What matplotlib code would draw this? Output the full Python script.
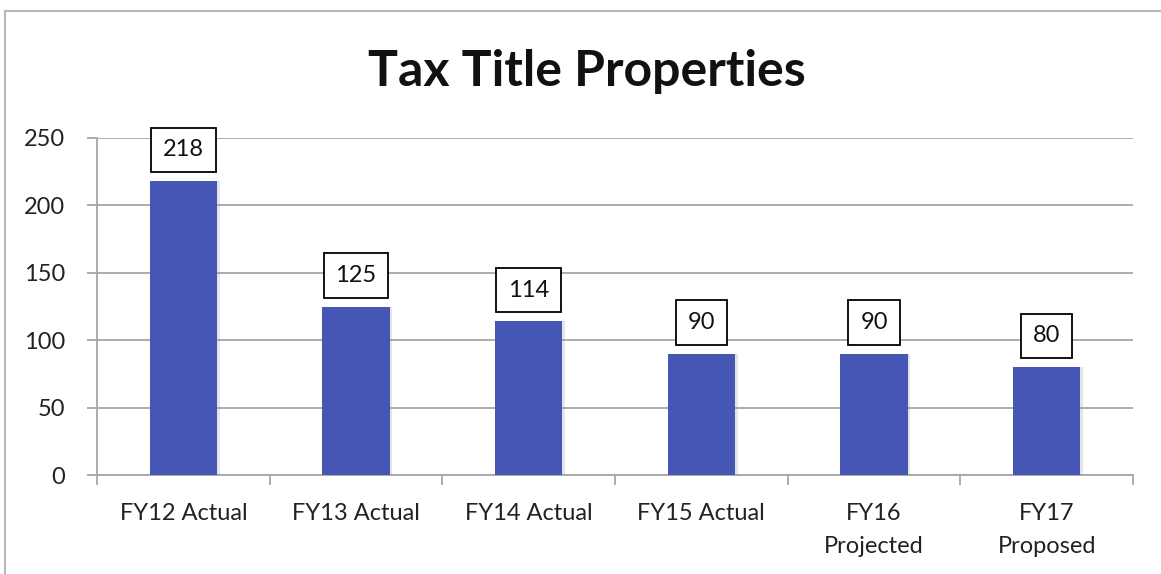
import matplotlib.pyplot as plt
import matplotlib.patheffects as pe
from matplotlib.patches import Rectangle

categories = ['FY12 Actual', 'FY13 Actual', 'FY14 Actual', 'FY15 Actual',
              'FY16\nProjected', 'FY17\nProposed']
values = [218, 125, 114, 90, 90, 80]

plt.rcParams['font.family'] = ['Lato', 'DejaVu Sans']

fig = plt.figure(figsize=(11.61, 5.74), dpi=100)
ax = fig.add_axes([97 / 1161, 99 / 574, 1036 / 1161, 337 / 574])

# outer frame (clipped on right/bottom like the screenshot)
fig.patches.append(Rectangle((5 / 1161, -0.05), 1.1, 1 - 11 / 574 + 0.05,
                             transform=fig.transFigure, fill=False,
                             edgecolor='#b8b8b8', linewidth=1.5))

x = list(range(len(values)))
bars = ax.bar(x, values, width=0.39, color='#4656b4', zorder=3,
              path_effects=[pe.SimplePatchShadow(offset=(2, 0), shadow_rgbFace='#999999', alpha=0.25),
                            pe.Normal()])

for xi, v in zip(x, values):
    ax.annotate(str(v), (xi, v), xytext=(0, 22.5), textcoords='offset points',
                ha='center', va='center', fontsize=17, color='#111111', zorder=5,
                bbox=dict(boxstyle='square,pad=0.5', facecolor='white',
                          edgecolor='black', linewidth=1.3))

ax.set_xlim(-0.5, 5.5)
ax.set_ylim(0, 250)
ax.set_yticks([0, 50, 100, 150, 200, 250])
ax.yaxis.grid(True, color='#a6a6a6', linewidth=1.3, zorder=0)
ax.set_axisbelow(True)

ax.set_xticks([i - 0.5 for i in range(len(values) + 1)])
ax.set_xticklabels([])
ax.set_xticks(x, minor=True)
ax.set_xticklabels(categories, minor=True, fontsize=17, color='#222222',
                   linespacing=1.7)
ax.tick_params(axis='x', which='major', length=7, width=1.3, color='#a6a6a6', direction='out')
ax.tick_params(axis='x', which='minor', length=0, pad=20)
ax.tick_params(axis='y', length=7, width=1.3, color='#a6a6a6', pad=16,
               labelsize=17, labelcolor='#222222')

for s in ['top', 'right']:
    ax.spines[s].set_visible(False)
for s in ['left', 'bottom']:
    ax.spines[s].set_color('#a6a6a6')
    ax.spines[s].set_linewidth(1.3)

fig.text(587 / 1161, 1 - 72 / 574, 'Tax Title Properties', ha='center', va='center',
         fontsize=36, fontweight='bold', color='#111111')

fig.savefig('out.png', dpi=100)
